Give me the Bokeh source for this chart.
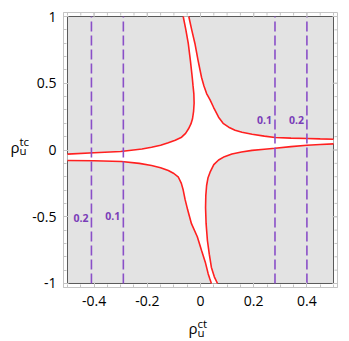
import numpy as np
from bokeh.plotting import figure
from bokeh.layouts import row, column
from bokeh.models import FixedTicker, Range1d
from bokeh.core.properties import value
from bokeh.embed import file_html
from bokeh.resources import INLINE

# ---- data ----
# boundary curves of the allowed (white) region
a_x = [-0.5, -0.4, -0.3, -0.22, -0.184, -0.15, -0.121, -0.095, -0.071, -0.056, -0.045, -0.036,
       -0.030, -0.026, -0.024, -0.025, -0.028, -0.031, -0.038, -0.046, -0.055, -0.065]
a_y = [-0.031, -0.021, -0.011, 0.008, 0.021, 0.036, 0.054, 0.073, 0.096, 0.125, 0.159, 0.195,
       0.234, 0.29, 0.35, 0.42, 0.48, 0.543, 0.67, 0.798, 0.9, 1.0]

b_x = [-0.044, -0.033, -0.021, -0.009, 0.004, 0.013, 0.023, 0.036, 0.049, 0.068, 0.085, 0.106,
       0.13, 0.156, 0.194, 0.24, 0.28, 0.34, 0.40, 0.45, 0.5]
b_y = [1.0, 0.9, 0.798, 0.67, 0.543, 0.48, 0.423, 0.375, 0.32, 0.246, 0.2, 0.171,
       0.148, 0.133, 0.118, 0.104, 0.094, 0.089, 0.086, 0.083, 0.081]

c_x = [0.5, 0.45, 0.4, 0.34, 0.28, 0.24, 0.194, 0.154, 0.118, 0.09, 0.068, 0.05, 0.036, 0.028,
       0.023, 0.020, 0.019, 0.021, 0.026, 0.033, 0.041, 0.052, 0.064]
c_y = [0.046, 0.041, 0.036, 0.025, 0.013, 0.006, -0.003, -0.015, -0.030, -0.05, -0.075, -0.11,
       -0.166, -0.21, -0.266, -0.34, -0.43, -0.55, -0.678, -0.78, -0.88, -0.95, -1.0]

d_x = [0.041, 0.035, 0.029, 0.018, 0.004, -0.012, -0.034, -0.048, -0.058, -0.065, -0.072, -0.083,
       -0.1, -0.121, -0.15, -0.184, -0.23, -0.297, -0.4, -0.5]
d_y = [-1.0, -0.965, -0.928, -0.84, -0.753, -0.65, -0.552, -0.45, -0.37, -0.3, -0.25, -0.204,
       -0.176, -0.154, -0.133, -0.116, -0.1, -0.086, -0.08, -0.079]

# dashed contour lines and their labels
dash_x = [-0.41, -0.29, 0.28, 0.40]
dash_lbl = ["0.2", "0.1", "0.1", "0.2"]
dash_lbl_y = [-0.51, -0.495, 0.228, 0.228]

# plot region and ticks
x_lo, x_hi = -0.5, 0.5
y_lo, y_hi = -1.0, 1.0
x_major = [-0.4, -0.2, 0, 0.2, 0.4]
x_minor = [round(v, 2) for v in np.arange(-0.5, 0.501, 0.05)]
y_major = [-1, -0.5, 0, 0.5, 1]
y_minor = [round(v, 1) for v in np.arange(-1.0, 1.001, 0.1)]
x_labels = {-0.4: "-0.4", -0.2: "-0.2", 0: "0", 0.2: "0.2", 0.4: "0.4"}
y_labels = {-1: "-1", -0.5: "-0.5", 0: "0", 0.5: "0.5", 1: "1"}

# axis titles: rho with subscript u and superscripts
x_title = ("ρ", "u", "ct")
y_title = ("ρ", "u", "tc")

FONT = "Open Sans"
FRAME = "#c4c4c4"
X0, X1 = -0.515, 0.515
Y0, Y1 = -1.03, 1.03

YT_W = 29          # width of the strip holding the y title
P_H = 315          # height of the main plot
XT_H = 24          # height of the strip holding the x title

p = figure(frame_width=274, frame_height=275,
           x_range=Range1d(X0, X1), y_range=Range1d(Y0, Y1),
           output_backend="svg", toolbar_location=None,
           min_border_left=32, min_border_right=8, min_border_top=12,
           min_border_bottom=P_H - 12 - 275)
p.xgrid.visible = False
p.ygrid.visible = False
p.outline_line_color = FRAME
p.background_fill_color = "white"
p.border_fill_color = "white"

# gray excluded region
p.quad(left=[x_lo], right=[x_hi], bottom=[y_lo], top=[y_hi],
       fill_color="#e3e3e3", line_color="#5a5a5a", line_width=1)

# white allowed region
px = a_x + b_x + c_x + d_x
py = a_y + b_y + c_y + d_y
p.patch(px, py, fill_color="white", line_color=None)

# red boundaries
p.multi_line([a_x, b_x, c_x, d_x], [a_y, b_y, c_y, d_y], line_color="#ff2020", line_width=1.6)

# dashed purple lines
p.segment(x0=dash_x, y0=[y_lo] * 4, x1=dash_x, y1=[y_hi] * 4,
          line_color="#8a4fc8", line_width=1.6, line_dash="10 4")
p.text(x=dash_x, y=dash_lbl_y, text=dash_lbl, x_offset=-3,
       text_align="right", text_baseline="middle",
       text_font=value(FONT), text_font_style="bold", text_font_size="10.5px",
       text_color="#7a3db8")

# inward frame ticks on top and right edges (half of each dash is clipped by the frame)
p.scatter(x=x_major, y=[Y1] * len(x_major), marker="dash", size=10, angle=np.pi / 2,
          line_color=FRAME, line_width=1)
p.scatter(x=x_minor, y=[Y1] * len(x_minor), marker="dash", size=6, angle=np.pi / 2,
          line_color=FRAME, line_width=1)
p.scatter(x=[X1] * len(y_major), y=y_major, marker="dash", size=10,
          line_color=FRAME, line_width=1)
p.scatter(x=[X1] * len(y_minor), y=y_minor, marker="dash", size=6,
          line_color=FRAME, line_width=1)

def style_axis(ax, ticks, minor, labels, standoff):
    ax.ticker = FixedTicker(ticks=ticks, minor_ticks=minor)
    ax.axis_line_color = FRAME
    ax.major_tick_line_color = FRAME
    ax.minor_tick_line_color = FRAME
    ax.major_tick_in = 5
    ax.major_tick_out = 0
    ax.minor_tick_in = 3
    ax.minor_tick_out = 0
    ax.major_label_overrides = labels
    ax.major_label_text_font = FONT
    ax.major_label_text_font_size = "14px"
    ax.major_label_text_color = "black"
    ax.major_label_standoff = standoff

style_axis(p.xaxis[0], x_major, x_minor, x_labels, 8)
style_axis(p.yaxis[0], y_major, y_minor, y_labels, 7)


def strip(w, h):
    f = figure(width=w, height=h, x_range=Range1d(0, w), y_range=Range1d(h, 0),
               x_axis_type=None, y_axis_type=None, output_backend="svg",
               toolbar_location=None, min_border=0)
    f.xgrid.visible = False
    f.ygrid.visible = False
    f.outline_line_color = None
    f.background_fill_color = "white"
    f.border_fill_color = "white"
    return f


def draw_title(f, parts, x, y_base, sub_dy, sup_dy, dx):
    main, sub, sup = parts
    kw = dict(text_font=value(FONT), text_color="black", text_baseline="alphabetic",
              text_align="left")
    f.text(x=[x], y=[y_base], text=[main], text_font_size="15px", **kw)
    f.text(x=[x + dx], y=[y_base + sub_dy], text=[sub], text_font_size="11.5px", **kw)
    f.text(x=[x + dx], y=[y_base + sup_dy], text=[sup], text_font_size="11.5px", **kw)


yt = strip(YT_W, P_H)
draw_title(yt, y_title, 10, 154, 4, -6, 9)

W = YT_W + 32 + 274 + 8
xt = strip(W, XT_H)
draw_title(xt, x_title, 188, 12, 5, -4, 9)

layout = column(row(yt, p, spacing=0), xt, spacing=0)

open("out.html", "w").write(file_html(layout, INLINE))
